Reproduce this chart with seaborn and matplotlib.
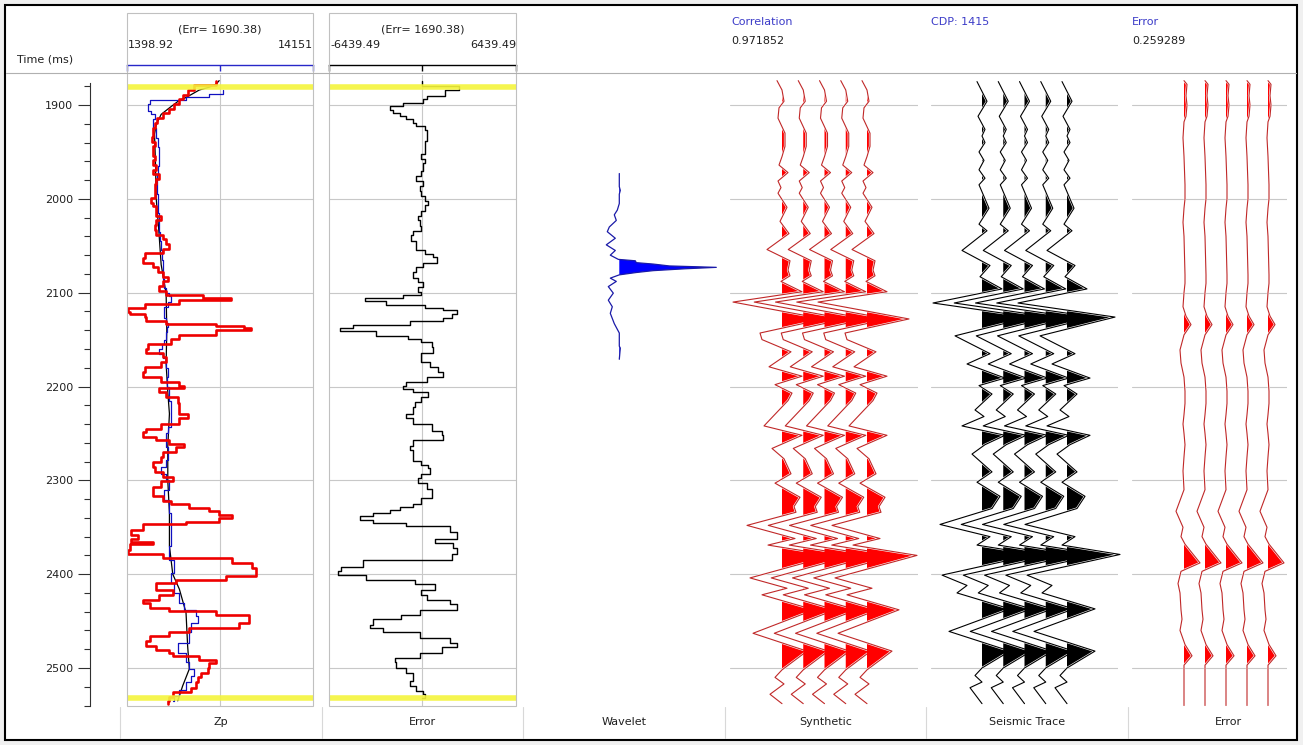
import matplotlib
matplotlib.use("Agg")
import matplotlib.pyplot as plt
import matplotlib.patheffects as pe
from matplotlib.patches import Rectangle
from matplotlib.lines import Line2D
from matplotlib.ticker import FixedLocator, MultipleLocator
import numpy as np
import seaborn as sns

# ---------------------------------------------------------------- data
ZP_RANGE = (1398.92, 14151.0)
ERR_RANGE = (-6439.49, 6439.49)
ERR_LABEL = "(Err= 1690.38)"
CORRELATION = "0.971852"
CDP = "1415"
TRACE_ERROR = "0.259289"
WINDOW = (1881, 2532)                     # analysis window tops (ms)
TIME_TICKS = [1900, 2000, 2100, 2200, 2300, 2400, 2500]
PANEL_TITLES = ["Zp", "Error", "Wavelet", "Synthetic", "Seismic Trace", "Error"]

# inverted P-impedance (red)
INV_T = [1874, 1879, 1884, 1889, 1894, 1899, 1904, 1909, 1914, 1919, 1924, 1934, 1939, 1944,
         1954, 1959, 1964, 1969, 1974, 1979, 1984, 1999, 2004, 2008, 2018, 2023, 2028, 2033,
         2038, 2043, 2048, 2053, 2058, 2063, 2068, 2073, 2078, 2083, 2088, 2093, 2098, 2103,
         2106, 2108, 2112, 2116, 2121, 2123, 2126, 2130, 2133, 2135, 2138, 2140, 2145, 2149,
         2155, 2160, 2164, 2169, 2174, 2179, 2185, 2190, 2195, 2199, 2202, 2206, 2211, 2218,
         2229, 2234, 2240, 2245, 2249, 2254, 2257, 2261, 2264, 2270, 2275, 2280, 2286, 2291,
         2296, 2301, 2307, 2317, 2322, 2325, 2329, 2333, 2337, 2340, 2344, 2347, 2353, 2358,
         2363, 2366, 2368, 2374, 2378, 2383, 2388, 2393, 2402, 2406, 2409, 2417, 2422, 2427,
         2431, 2436, 2439, 2443, 2452, 2457, 2462, 2466, 2471, 2477, 2481, 2484, 2487, 2491,
         2495, 2500, 2505, 2510, 2515, 2521, 2526, 2531, 2535, 2538]
INV_ZP = [7491, 6013, 5558, 5217, 4990, 4649, 4308, 3854, 3445, 3286, 3172, 3126, 3286, 3172,
          3286, 3172, 3354, 3172, 3627, 3399, 3286, 3058, 3172, 3399, 3740, 3399, 3286, 3399,
          3854, 4081, 4308, 3854, 2604, 2490, 3172, 3513, 3854, 4195, 3854, 3627, 4081, 6581,
          8513, 4990, 2604, 1467, 1581, 2604, 2717, 4081, 7491, 9423, 9877, 7491, 4990, 4422,
          2831, 2717, 3854, 4081, 3740, 2604, 2490, 3740, 4990, 5331, 3627, 4081, 4877, 4990,
          5558, 4990, 3740, 2717, 2490, 3399, 4308, 5331, 4763, 3854, 3740, 3172, 3286, 3854,
          4536, 3740, 3172, 3854, 4422, 5672, 7036, 7718, 8627, 7718, 5445, 2490, 1694, 2149,
          1694, 3172, 1581, 1467, 3854, 8627, 9991, 10218, 8172, 4763, 3399, 4536, 3627, 2490,
          2945, 4308, 7491, 9763, 9082, 5672, 4308, 2945, 2717, 3399, 4308, 4536, 6354, 7491,
          7036, 6922, 6468, 6240, 6127, 5786, 4536, 4308, 4195, 4195]

# well-log P-impedance (blue)
LOG_T = [1884, 1888, 1891, 1895, 1899, 1906, 1910, 1915, 1925, 1935, 1945, 1955, 1965, 1975,
         1995, 2005, 2015, 2025, 2035, 2045, 2055, 2065, 2075, 2085, 2095, 2100, 2104, 2110,
         2115, 2127, 2132, 2137, 2142, 2150, 2155, 2160, 2165, 2170, 2180, 2190, 2200, 2204,
         2215, 2243, 2250, 2264, 2278, 2286, 2293, 2300, 2310, 2321, 2335, 2370, 2385, 2399,
         2409, 2420, 2431, 2438, 2445, 2452, 2462, 2473, 2484, 2494, 2501, 2508, 2515, 2523,
         2530, 2535]
LOG_ZP = [8000, 7036, 5445, 2945, 2831, 3058, 3286, 3172, 3399, 3513, 3581, 3627, 3513, 3445,
          3513, 3513, 3581, 3627, 3672, 3740, 3808, 3854, 3899, 3968, 4081, 4308, 4422, 4195,
          3968, 4081, 4195, 4127, 4081, 3968, 3808, 3627, 3854, 4081, 4195, 4127, 4263, 4308,
          4422, 4195, 4081, 4195, 4081, 3740, 4081, 4308, 3968, 4308, 4422, 4308, 4649, 4422,
          4649, 4990, 5331, 6127, 6240, 5786, 5672, 4877, 5445, 5672, 6013, 5786, 5445, 4990,
          4649, 4536]

# initial (low-frequency) model (black)
INIT_T = [1874, 1878, 1881, 1884, 1888, 1892, 1895, 1903, 1910, 1921, 1931, 1963, 1999, 2034,
          2070, 2101, 2140, 2176, 2206, 2229, 2264, 2300, 2335, 2370, 2400, 2416, 2441, 2477,
          2501, 2519, 2535]
INIT_ZP = [7718, 7491, 7036, 6354, 5899, 5445, 4990, 4308, 3740, 3399, 3286, 3354, 3399, 3581,
           3740, 4081, 4127, 4081, 4195, 4308, 4195, 4195, 4308, 4308, 4536, 4990, 5445, 5558,
           5672, 5217, 4877]

# impedance error log
ERR_T = [1874, 1880, 1884, 1890, 1894, 1898, 1901, 1905, 1908, 1912, 1915, 1919, 1922, 1927,
         1933, 1938, 1945, 1952, 1957, 1962, 1970, 1976, 1981, 1986, 1992, 1997, 2002, 2007,
         2013, 2018, 2023, 2029, 2034, 2039, 2045, 2050, 2055, 2059, 2062, 2068, 2073, 2078,
         2084, 2089, 2094, 2099, 2103, 2106, 2109, 2113, 2116, 2118, 2123, 2127, 2130, 2134,
         2138, 2141, 2146, 2149, 2153, 2158, 2164, 2169, 2174, 2179, 2185, 2190, 2195, 2199,
         2203, 2206, 2211, 2217, 2222, 2229, 2234, 2240, 2247, 2252, 2257, 2263, 2268, 2273,
         2279, 2284, 2287, 2293, 2298, 2303, 2309, 2314, 2319, 2325, 2328, 2332, 2335, 2338,
         2342, 2345, 2349, 2355, 2360, 2363, 2367, 2372, 2378, 2385, 2392, 2397, 2401, 2406,
         2411, 2417, 2422, 2427, 2432, 2438, 2443, 2448, 2454, 2457, 2462, 2468, 2473, 2478,
         2484, 2489, 2494, 2500, 2505, 2510, 2514, 2519, 2524, 2528, 2532]
ERR_V = [0, 2530, 1541, 276, 46, -1334, -2254, -2024, -1564, -1104, -644, -414, 161, 276,
         276, 161, 161, -69, 161, 46, -69, -414, 46, -184, -69, 161, 391, 161,
         -69, -299, -184, -69, -644, -759, -414, -414, 161, 736, 966, 46, -414, -644,
         -299, 46, -299, -69, -1334, -3979, -2484, 161, 1426, 2346, 2001, 1426, -874, -4784,
         -5704, -3174, -989, -69, 621, 736, -69, -69, 506, 1081, 1426, 276, -1104, -1334,
         -644, 391, -69, -529, -644, -1104, -644, 621, 1311, 1426, -644, -874, -644, -644,
         -69, 391, 506, -69, -299, 276, 621, 621, -69, -644, -1564, -2254, -3404, -4324,
         -3404, -1104, 1886, 2346, 2346, 851, 2116, 2346, 2001, -4094, -5589, -5819, -3864, -529,
         851, -69, 276, 1886, 2346, -184, -1449, -3404, -3634, -2714, -184, 1886, 2346, 1311,
         -184, -1909, -1794, -1104, -644, -644, -874, -414, 46, 161, 0]

# extracted wavelet (lag in ms, amplitude)
WAVELET_LAG = [-100, -86, -82, -78, -68, -61, -56, -50, -43, -38, -31, -24, -18, -13, -8.5,
               -7, -5, -3.5, -1.5, 0, 1.5, 3.5, 5.5, 8, 11.5, 15, 20.5, 27.5, 35, 42, 49, 60,
               70, 84, 86, 98]
WAVELET_AMP = [0, 0, 1, 0, 0, -2, -5, -3, -10, -12, -4, -13, -4, -9, -1,
               16, 17, 34, 50, 97, 66, 34, 17, 0, -9, -3, -11, -6, -11, -7, -9, -5,
               0, 0, 1, 0]

# synthetic trace
SYN_T = [1874, 1884, 1896, 1903, 1914, 1930, 1944, 1955, 1964, 1972, 1981, 1988, 1994, 2009,
         2024, 2037, 2054, 2066, 2076, 2082, 2088, 2099, 2110, 2128, 2143, 2150, 2163, 2179,
         2189, 2198, 2207, 2215, 2242, 2252, 2266, 2277, 2293, 2303, 2318, 2328, 2334, 2348,
         2362, 2369, 2380, 2404, 2415, 2422, 2438, 2463, 2482, 2502, 2510, 2517, 2528, 2538]
SYN_A = [-5, 0, 2, -3, -4, 3, 3, 0, -3, 6, -4, -1, -4, 5,
         -2, 7, -15, 8, 6, 8, -1, 20, -49, 42, -22, -20, 9, -13,
         20, -7, 10, 6, -18, 20, -10, 2, 9, -7, 18, 12, 14, -35,
         13, -14, 50, -32, 5, -20, 32, -29, 25, 0, -7, 2, -12, 0]

# recorded seismic trace at the well
SEIS_T = [1875, 1896, 1912, 1926, 1933, 1940, 1950, 1959, 1969, 1978, 1985, 2000, 2010, 2027,
          2034, 2055, 2071, 2083, 2096, 2111, 2126, 2146, 2165, 2176, 2191, 2199, 2208, 2218,
          2225, 2232, 2242, 2252, 2262, 2272, 2291, 2302, 2317, 2330, 2347, 2360, 2369, 2379,
          2401, 2412, 2420, 2437, 2461, 2482, 2500, 2508, 2515, 2521, 2538]
SEIS_A = [-5, 5, -4, 3, 0, 3, -3, 2, -3, 3, -3, 3, 7, -3,
          5, -20, 8, -2, 20, -49, 48, -27, 8, -15, 23, -3, 10, 0,
          -7, 2, -20, 23, 3, -10, 10, -5, 18, 10, -42, 8, -5, 53,
          -40, -15, -25, 28, -33, 28, 0, -7, 0, -12, 0]

# trace residual (seismic - synthetic)
RES_T = [1874, 1878, 1890, 1900, 1912, 1918, 1935, 1955, 1985, 2000, 2010, 2025, 2040, 2081,
         2090, 2100, 2115, 2125, 2134, 2145, 2161, 2175, 2190, 2205, 2218, 2230, 2240, 2250,
         2262, 2275, 2290, 2310, 2333, 2350, 2360, 2368, 2388, 2397, 2410, 2420, 2438, 2448,
         2460, 2475, 2487, 2497, 2540]
RES_A = [0, 3, 2, 3, 2, 0, -1, 0, 1, 1, 0, -1, 0, 1,
         1, 0, -1, 2, 7, 0, -4, -3, 0, 1, 1, 0, -1, 0,
         1, 0, -1, 0, -8, -1, -3, 1, 16, -3, -6, -4, -3, -2,
         -4, 1, 8, 0, 0]

# ---------------------------------------------------------------- style
sns.set_theme(style="white")
plt.rcParams["font.family"] = ["DejaVu Sans"]
plt.rcParams["font.size"] = 8

W, H = 1303, 745
FONT = 8
HEAD_BLUE = "#3c3cc8"
GRID = "#c8c8c8"
YELLOW = "#f4f43c"
T_TOP, T_BOT = 1868.0, 2540.5           # time range shown by the plot area
PY0, PY1 = 75, 706                       # plot area (pixels, from top)
N_COPIES = 5

fig = plt.figure(figsize=(W / 100, H / 100), dpi=100, facecolor="#f0f0f0")


def fx(x):
    return x / W


def fy(y):
    return 1 - y / H


def px_axes(x0, x1, y0=PY0, y1=PY1):
    ax = fig.add_axes([fx(x0), fy(y1), (x1 - x0) / W, (y1 - y0) / H])
    ax.set_facecolor("none")
    for s in ax.spines.values():
        s.set_visible(False)
    ax.set_ylim(T_BOT, T_TOP)
    ax.tick_params(left=False, bottom=False, top=False, right=False,
                   labelleft=False, labelbottom=False)
    return ax


def fig_line(xs, ys, **kw):
    fig.add_artist(Line2D([fx(x) for x in xs], [fy(y) for y in ys],
                          transform=fig.transFigure, **kw))


def fig_text(x, y, s, **kw):
    fig.text(fx(x), fy(y), s, fontsize=FONT, va="center", **kw)


def time_grid(ax):
    ax.set_yticks(TIME_TICKS)
    ax.yaxis.grid(True, color=GRID, lw=0.8)
    ax.set_axisbelow(True)


# outer frame, header separator
fig.add_artist(Rectangle((fx(5), fy(740)), (1297 - 5) / W, (740 - 5) / H,
                         transform=fig.transFigure, facecolor="white",
                         edgecolor="black", lw=1.5, zorder=-5))
fig_line([6, 1296], [73, 73], color="#b0b0b0", lw=0.8)

# footer captions and separators
col_edges = [120 + 201.5 * k for k in range(6)]
for k, title in enumerate(PANEL_TITLES):
    fig_text(col_edges[k] + 100.75, 722, title, ha="center", color="#202020")
    fig_line([col_edges[k], col_edges[k]], [707, 738], color="#d8d8d8", lw=0.8)

# ---------------------------------------------------------------- time axis
ax_t = fig.add_axes([fx(90), fy(PY1), 1 / W, (PY1 - PY0) / H])
ax_t.set_facecolor("none")
for name, s in ax_t.spines.items():
    s.set_visible(name == "left")
ax_t.spines["left"].set_color("#303030")
ax_t.spines["left"].set_linewidth(0.8)
ax_t.spines["left"].set_bounds(T_BOT, 1876)
ax_t.set_ylim(T_BOT, T_TOP)
ax_t.set_xticks([])
ax_t.yaxis.set_major_locator(FixedLocator(TIME_TICKS))
ax_t.yaxis.set_minor_locator(MultipleLocator(20))
ax_t.tick_params(axis="y", which="major", left=True, length=9, width=0.8,
                 pad=3, labelsize=FONT, color="#303030", labelcolor="#202020")
ax_t.tick_params(axis="y", which="minor", left=True, length=4, width=0.8, color="#303030")
fig_text(17, 60, "Time (ms)", ha="left", color="#202020")


# ---------------------------------------------------------------- log panels
def log_panel(x0, x1, xrange, scale_color, left_lbl, right_lbl):
    ax = px_axes(x0, x1)
    ax.set_xlim(*xrange)
    mid = 0.5 * (xrange[0] + xrange[1])
    time_grid(ax)
    ax.set_xticks([mid])
    ax.xaxis.grid(True, color=GRID, lw=0.8)
    # scale bar above the panel
    ax.spines["top"].set_visible(True)
    ax.spines["top"].set_color(scale_color)
    ax.spines["top"].set_linewidth(1.0)
    ax.spines["top"].set_position(("outward", 7.2))
    sec = ax.secondary_xaxis("top")
    sec.spines["top"].set_visible(False)
    sec.set_xticks([xrange[0], mid, xrange[1]])
    sec.tick_params(axis="x", direction="in", length=4, width=1.0, color=scale_color,
                    labeltop=False, top=True, pad=0)
    sec.spines["top"].set_position(("outward", 7.2))
    fig.add_artist(Rectangle((fx(x0), fy(PY1)), (x1 - x0) / W, (PY1 - 13) / H,
                             transform=fig.transFigure, fill=False,
                             edgecolor="#c0c0c0", lw=0.8))
    fig_text(0.5 * (x0 + x1), 30, ERR_LABEL, ha="center", color="#202020")
    fig_text(x0 + 1, 45, left_lbl, ha="left", color="#202020")
    fig_text(x1, 45, right_lbl, ha="right", color="#202020")
    for t in WINDOW:
        ax.axhline(t, color=YELLOW, lw=4, alpha=0.9, zorder=6)
    return ax


ax_zp = log_panel(127, 313, ZP_RANGE, "#2828c8", "1398.92", "14151")
sns.lineplot(x=INIT_ZP, y=INIT_T, orient="y", sort=False, estimator=None,
             color="black", lw=0.9, ax=ax_zp, zorder=3)
sns.lineplot(x=LOG_ZP, y=LOG_T, orient="y", sort=False, estimator=None,
             drawstyle="steps-pre", color="#1010c0", lw=0.9, ax=ax_zp, zorder=4)
sns.lineplot(x=INV_ZP, y=INV_T, orient="y", sort=False, estimator=None,
             drawstyle="steps-pre", color="#ee0000", lw=1.9, ax=ax_zp, zorder=5)

ax_err = log_panel(329, 516, ERR_RANGE, "black", "-6439.49", "6439.49")
sns.lineplot(x=ERR_V, y=ERR_T, orient="y", sort=False, estimator=None,
             drawstyle="steps-pre", color="black", lw=1.0, ax=ax_err, zorder=4)

# ---------------------------------------------------------------- wavelet
WAVELET_T0 = 2073                        # time at which the wavelet is displayed
ax_w = px_axes(527, 730)
ax_w.set_xlim(-92.3, 110.7)
w_t = WAVELET_T0 + np.asarray(WAVELET_LAG, float)
w_a = np.asarray(WAVELET_AMP, float)
ax_w.fill_betweenx(w_t, 0, w_a, where=w_a > 0, interpolate=True, color="#0000ff", lw=0)
sns.lineplot(x=w_a, y=w_t, orient="y", sort=False, estimator=None,
             color="#1a1aa8", lw=0.9, ax=ax_w)


# ---------------------------------------------------------------- wiggle traces
def wiggle_panel(x0, x1, base, spacing, t, a, line_color, fill_color):
    ax = px_axes(x0, x1)
    ax.set_xlim(0, x1 - x0)
    time_grid(ax)
    t = np.asarray(t, float)
    a = np.asarray(a, float)
    halo = [pe.Stroke(linewidth=1.6, foreground="white"), pe.Normal()]
    for k in range(N_COPIES):
        off = base + k * spacing
        ax.fill_betweenx(t, off, off + a, where=a > 0, interpolate=True,
                         color=fill_color, lw=0, zorder=2 + 2 * k, clip_on=False)
        sns.lineplot(x=off + a, y=t, orient="y", sort=False, estimator=None,
                     color=line_color, lw=0.8, ax=ax, zorder=3 + 2 * k,
                     path_effects=halo, clip_on=False)
    return ax


wiggle_panel(730, 918, 52, 21.25, SYN_T, SYN_A, "#c02828", "#ff0000")
wiggle_panel(931, 1118, 51, 21.25, SEIS_T, SEIS_A, "black", "black")
wiggle_panel(1132, 1287, 52, 21.0, RES_T, RES_A, "#c02828", "#ff0000")

# ---------------------------------------------------------------- header readouts
fig_text(731, 22, "Correlation", ha="left", color=HEAD_BLUE)
fig_text(731, 41, CORRELATION, ha="left", color="#202020")
fig_text(931, 22, f"CDP: {CDP}", ha="left", color=HEAD_BLUE)
fig_text(1132, 22, "Error", ha="left", color=HEAD_BLUE)
fig_text(1132, 41, TRACE_ERROR, ha="left", color="#202020")

fig.savefig("out.png", dpi=100, facecolor=fig.get_facecolor())
